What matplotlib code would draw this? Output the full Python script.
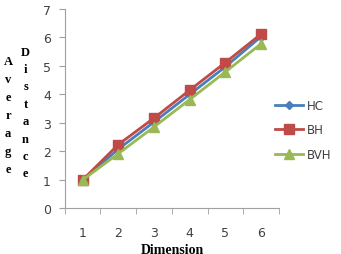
import matplotlib
matplotlib.use('Agg')
import matplotlib.pyplot as plt
import numpy as np

dims = [1, 2, 3, 4, 5, 6]
hc = [1.0, 2.08, 3.03, 4.0, 4.97, 6.03]
bh = [1.0, 2.24, 3.17, 4.15, 5.12, 6.12]
bvh = [1.0, 1.92, 2.86, 3.82, 4.79, 5.78]

fig = plt.figure(figsize=(3.41, 2.55), dpi=100)
ax = fig.add_axes([0.19, 0.179, 0.628, 0.782])

x = np.arange(len(dims))
ax.plot(x, hc, color='#4A7EBB', marker='D', markersize=4, linewidth=2, label='HC')
ax.plot(x, bh, color='#BE4B48', marker='s', markersize=7, linewidth=2, label='BH')
ax.plot(x, bvh, color='#98B954', marker='^', markersize=7, linewidth=2, label='BVH')

ax.set_xlim(-0.5, len(dims) - 0.5)
ax.set_ylim(0, 7)
ax.set_xticks(x)
ax.set_xticklabels([str(d) for d in dims])
ax.set_xticks(np.arange(-0.5, len(dims)), minor=True)
ax.tick_params(axis='x', which='major', length=0, pad=13, labelsize=9, colors='#404040')
ax.tick_params(axis='x', which='minor', length=4, direction='out', color='#A0A0A0')
ax.tick_params(axis='y', length=4, direction='out', color='#A0A0A0', labelsize=9, colors='#404040', pad=6)
ax.tick_params(axis='y', color='#A0A0A0')

for s in ['top', 'right']:
    ax.spines[s].set_visible(False)
for s in ['left', 'bottom']:
    ax.spines[s].set_color('#A0A0A0')

fig.text(0.505, 0.045, 'Dimension', ha='center', va='top', family='Liberation Serif',
         fontweight='bold', fontsize=10)
fig.text(0.024, 0.545, '\n'.join('Average'), ha='center', va='center', family='Liberation Serif',
         fontweight='bold', fontsize=9, linespacing=1.65)
fig.text(0.075, 0.555, '\n'.join('Distance'), ha='center', va='center', family='Liberation Serif',
         fontweight='bold', fontsize=9, linespacing=1.6)

ax.legend(loc='center left', bbox_to_anchor=(0.93, 0.393), frameon=False, fontsize=8.5,
          handlelength=2.4, labelspacing=1.0, handletextpad=0.3, labelcolor='#404040')

fig.savefig('out.png', dpi=100)
